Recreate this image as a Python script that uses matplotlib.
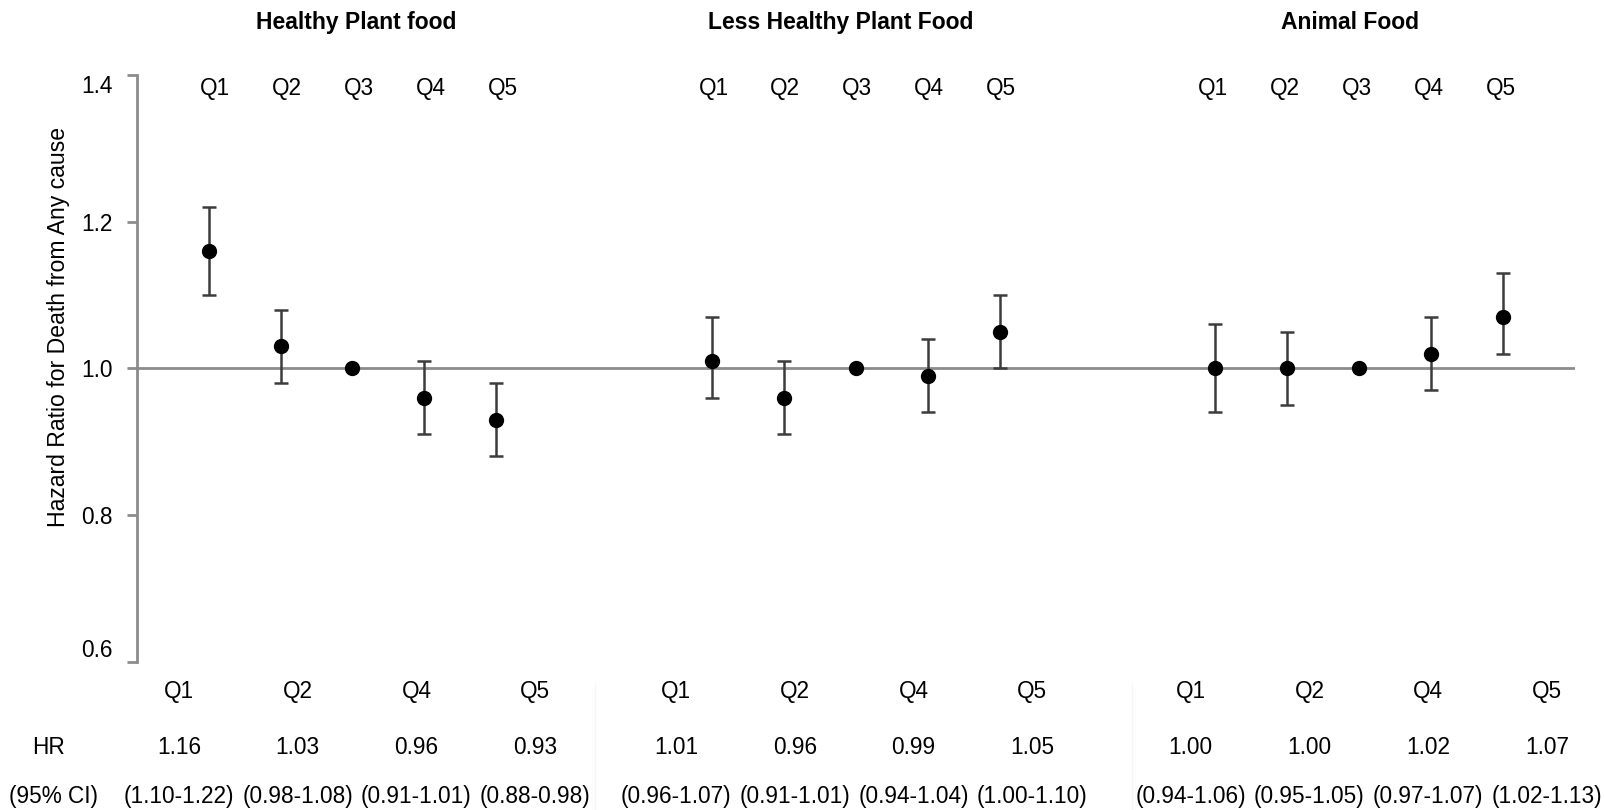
import numpy as np
import matplotlib.pyplot as plt
from matplotlib.lines import Line2D

plt.rcParams['font.family'] = ['Liberation Sans', 'DejaVu Sans']

groups = ['Healthy Plant food', 'Less Healthy Plant Food', 'Animal Food']
quintiles = ['Q1', 'Q2', 'Q3', 'Q4', 'Q5']

# hazard ratios and 95% CI per quintile (Q3 is reference, no CI)
healthy_hr = [1.16, 1.03, 1.00, 0.96, 0.93]
healthy_lo = [1.10, 0.98, np.nan, 0.91, 0.88]
healthy_hi = [1.22, 1.08, np.nan, 1.01, 0.98]

less_hr = [1.01, 0.96, 1.00, 0.99, 1.05]
less_lo = [0.96, 0.91, np.nan, 0.94, 1.00]
less_hi = [1.07, 1.01, np.nan, 1.04, 1.10]

animal_hr = [1.00, 1.00, 1.00, 1.02, 1.07]
animal_lo = [0.94, 0.95, np.nan, 0.97, 1.02]
animal_hi = [1.06, 1.05, np.nan, 1.07, 1.13]

table_q = ['Q1', 'Q2', 'Q4', 'Q5']
yticks = [0.6, 0.8, 1.0, 1.2, 1.4]

W, H = 1604, 810
fig = plt.figure(figsize=(W / 100, H / 100), dpi=100)
ax = fig.add_axes([136.7 / W, (H - 661.7) / H, (1575 - 136.7) / W, (661.7 - 75) / H])

grey = '#8c8c8c'
fs = 16.3

ax.axhline(1.0, color=grey, lw=2, zorder=1)

data = [(healthy_hr, healthy_lo, healthy_hi),
        (less_hr, less_lo, less_hi),
        (animal_hr, animal_lo, animal_hi)]
label_shift = [0.09, 0.02, -0.03]

for g, (hr, lo, hi) in enumerate(data):
    hr = np.array(hr)
    lo = np.array(lo)
    hi = np.array(hi)
    x = g * 7 + np.arange(5)
    m = ~np.isnan(lo)
    ax.errorbar(x[m], hr[m], yerr=[hr[m] - lo[m], hi[m] - hr[m]], fmt='none',
                ecolor='#3c3c3c', elinewidth=1.8, capsize=4.8, capthick=1.8, zorder=2)
    ax.plot(x, hr, 'o', color='black', ms=10, zorder=3)
    for i, q in enumerate(quintiles):
        ax.text(x[i] + label_shift[g], 1.382, q, ha='center', va='center', fontsize=fs)

ax.set_xlim(-1, 19)
ax.set_ylim(0.6, 1.4)
ax.set_xticks([])
ax.set_yticks(yticks)
ax.set_yticklabels([f'{t:.1f}' for t in yticks])
for s in ['top', 'right', 'bottom']:
    ax.spines[s].set_visible(False)
ax.spines['left'].set_color(grey)
ax.spines['left'].set_linewidth(2)
ax.tick_params(axis='y', length=7, width=2, color=grey, pad=10, labelsize=fs)
labs = ax.get_yticklabels()
labs[0].set_va('bottom')
labs[-1].set_va('top')

# panel titles
title_x = [356, 841, 1350]
for tx, t in zip(title_x, groups):
    fig.text(tx / W, 1 - 22.5 / H, t, ha='center', va='center', fontsize=16.5, fontweight='bold')

fig.text(58 / W, 1 - 327 / H, 'Hazard Ratio for Death from Any cause', rotation=90,
         ha='center', va='center', fontsize=16.6)

# table under the plot
row_y = [691.5, 747, 797]
fig.text(48 / W, 1 - row_y[1] / H, 'HR', ha='center', va='center', fontsize=fs)
fig.text(9 / W, 1 - row_y[2] / H, '(95% CI)', ha='left', va='center', fontsize=fs)
col_start = [179, 676.2, 1190.7]
for g, (hr, lo, hi) in enumerate(data):
    keep = [0, 1, 3, 4]
    for j, k in enumerate(keep):
        cx = (col_start[g] + j * 118.7) / W
        fig.text(cx, 1 - row_y[0] / H, table_q[j], ha='center', va='center', fontsize=fs)
        fig.text(cx, 1 - row_y[1] / H, f'{hr[k]:.2f}', ha='center', va='center', fontsize=fs)
        fig.text(cx, 1 - row_y[2] / H, f'({lo[k]:.2f}-{hi[k]:.2f})', ha='center', va='center', fontsize=fs)

for sx in [595, 1132]:
    fig.add_artist(Line2D([sx / W, sx / W], [0, 1 - 683 / H], color='#f7f7f7', lw=1))

fig.savefig('out.png', dpi=100)
